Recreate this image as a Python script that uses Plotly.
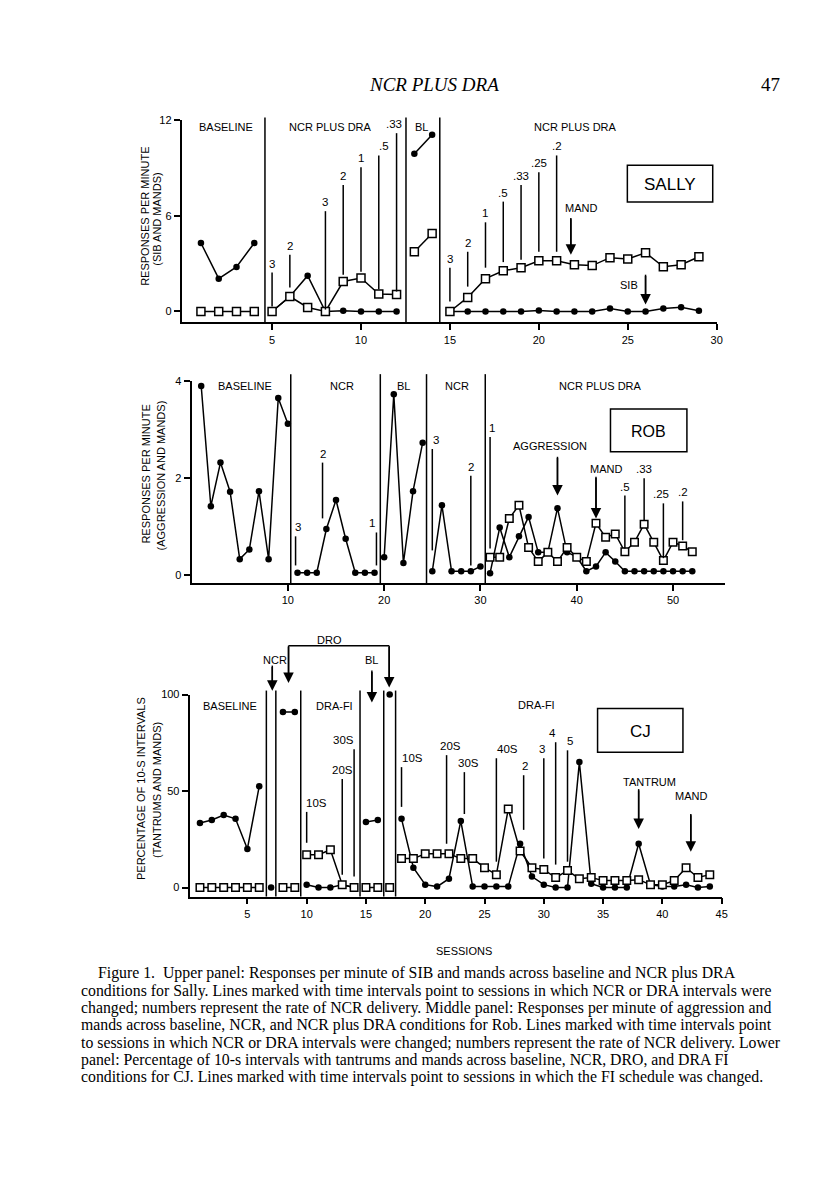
import plotly.graph_objects as go

W, H = 816, 1200

# ---------------- DATA ----------------
# Sally (upper panel): responses per minute of SIB (filled circles) and mands (open squares)
sally_sessions = list(range(1, 30))
sally_sib = [4.3, 2.06, 2.8, 4.3,
             0.0, 0.94, 2.25, 0.0, 0.05, 0.0, 0.0, 0.0,
             9.9, 11.1,
             0.0, 0.0, 0.0, 0.0, 0.0, 0.06, 0.0, 0.0, 0.0, 0.19, 0.0, 0.0, 0.19, 0.27, 0.05]
sally_mands = [0.0, 0.0, 0.0, 0.0,
               0.0, 0.94, 0.25, 0.0, 1.88, 2.1, 1.1, 1.06,
               3.75, 4.9,
               0.0, 0.88, 2.06, 2.56, 2.75, 3.19, 3.19, 2.94, 2.88, 3.38, 3.3, 3.69, 2.81, 2.94, 3.44]
sally_phase_breaks = [4.6, 12.53, 14.43]
sally_xticks = [5, 10, 15, 20, 25, 30]
sally_yticks = [0, 6, 12]

# Rob (middle panel): responses per minute of aggression (circles) and mands (squares)
rob_sessions = list(range(1, 53))
rob_aggression = [3.9, 1.42, 2.32, 1.72, 0.33, 0.53, 1.73, 0.33, 3.65, 3.12,
                  0.05, 0.05, 0.05, 0.95, 1.55, 0.75, 0.05, 0.05, 0.05,
                  0.37, 3.73, 0.25, 1.73, 2.73,
                  0.08, 1.44, 0.08, 0.08, 0.08, 0.18,
                  0.04, 0.98, 0.37, 0.8, 1.2, 0.47, 0.47, 1.38, 0.47, 0.38, 0.08, 0.18, 0.47, 0.28,
                  0.08, 0.08, 0.08, 0.08, 0.08, 0.08, 0.08, 0.08]
rob_mand_sessions = list(range(31, 53))
rob_mands = [0.37, 0.37, 1.17, 1.44, 0.57, 0.28, 0.47, 0.28, 0.57, 0.37, 0.28,
             1.07, 0.78, 0.85, 0.48, 0.68, 1.05, 0.68, 0.3, 0.68, 0.6, 0.48]
rob_phase_breaks = [10.3, 19.6, 24.4, 30.5]
rob_xticks = [10, 20, 30, 40, 50]
rob_yticks = [0, 2, 4]

# CJ (lower panel): percentage of 10-s intervals with tantrums (circles) and mands (squares)
cj_sessions = list(range(1, 45))
cj_tantrums = [33.5, 35, 37.6, 35.6, 20, 52.5,
               0,
               91, 91,
               1.5, 0, 0, 1.5, 0,
               34, 35,
               100,
               35.6, 10.3, 1.5, 0.5, 4.6, 34.5, 0.5, 0.5, 0.5, 0.5, 22.7, 5.7, 1.5,
               0, 0, 65, 2, 0, 0, 0, 22.7, 1.5, 0.5, 0.5, 1.5, 0, 0.5]
cj_mand_sessions = [1, 2, 3, 4, 5, 6] + list(range(8, 45))
cj_mands = [0, 0, 0, 0, 0, 0,
            0, 0,
            17, 17, 19.6, 1.5, 0,
            0, 0,
            0,
            15, 15, 17.5, 17.5, 17.5, 15, 15, 10.3, 6.7, 40.7, 19, 10.3, 9.3,
            5.2, 8.8, 4.6, 5.2, 3.6, 3.6, 3.6, 4.1, 1.5, 1.5, 3.6, 10.3, 5.2, 6.7]
cj_phase_breaks = [6.6, 7.4, 9.5, 14.5, 16.5, 17.5]
cj_xticks = [5, 10, 15, 20, 25, 30, 35, 40, 45]
cj_yticks = [0, 50, 100]

# Condition-change markers: (session, label)
sally_mark_sessions = [5, 6, 8, 9, 10, 11, 12, 15, 16, 17, 18, 19, 20, 21]
sally_mark_labels = ["3", "2", "3", "2", "1", ".5", ".33", "3", "2", "1", ".5", ".33", ".25", ".2"]
rob_mark_sessions = [10.8, 13.6, 19.2, 25, 29, 31, 45, 47, 49, 51]
rob_mark_labels = ["3", "2", "1", "3", "2", "1", ".5", ".33", ".25", ".2"]
cj_mark_sessions = [10, 13, 14, 18, 21.8, 23.3, 26, 28.3, 30, 31, 32]
cj_mark_labels = ["10S", "20S", "30S", "10S", "20S", "30S", "40S", "2", "3", "4", "5"]

# ---------------- LAYOUT GEOMETRY (pixels) ----------------
P = {
    "sally": dict(x0=183, x1=722, xr=(-0.084, 30.0), y0=318, y1=115, yr=(-0.6875, 12.0), top=112),
    "rob":   dict(x0=193, x1=730, xr=(0.0, 55.36), y0=580, y1=377, yr=(-0.164, 4.0), top=370),
    "cj":    dict(x0=191, x1=727, xr=(0.126, 45.0), y0=895, y1=692, yr=(-4.64, 100.0), top=688),
}
# marker line extents (top, bottom) in data units, label x shift in px
sally_mark_geom = [(2.44, 0.31, 0), (3.56, 1.5, 0), (6.3, 0.12, 0), (7.94, 2.31, 0), (9.06, 2.5, 0),
                   (9.8, 1.4, 5), (11.2, 1.25, -3), (2.75, 0.62, 0), (3.75, 1.56, 0), (5.6, 2.75, 0),
                   (6.9, 3.1, 0), (7.94, 3.25, 0), (8.75, 3.75, 0), (9.8, 3.75, 0)]
rob_mark_geom = [(0.8, 0.2, 2), (2.32, 1.17, 0), (0.88, 0.2, -4), (2.6, 0.51, 4), (2.05, 0.2, 0),
                 (2.85, 0.55, 2), (1.64, 0.55, 0), (2.0, 1.13, 0), (1.48, 0.35, -2), (1.52, 0.72, 0)]
cj_mark_geom = [(39.2, 23.2, 10), (56.2, 6.7, 0), (71.6, 5.7, -11), (62.4, 41.8, 11), (68.6, 22.7, 4),
                (59.8, 38.1, 4), (67, 13.4, 11), (58.2, 29.9, 1), (67, 15, -2), (75.3, 11.9, -3),
                (71.1, 13.4, 2)]


def px(p, v):
    d = P[p]
    return d["x0"] + (v - d["xr"][0]) / (d["xr"][1] - d["xr"][0]) * (d["x1"] - d["x0"])


def py(p, v):
    d = P[p]
    return d["y0"] + (v - d["yr"][0]) / (d["yr"][1] - d["yr"][0]) * (d["y1"] - d["y0"])


def fx(x):
    return x / W


def fy(y):
    return 1 - y / H


SANS = "Liberation Sans, Arial, sans-serif"
SERIF = "Liberation Serif, Times New Roman, serif"


def split(xs, ys, breaks):
    ox, oy = [], []
    for i, (x, y) in enumerate(zip(xs, ys)):
        if i > 0 and any(xs[i - 1] < b < x for b in breaks):
            ox.append(None)
            oy.append(None)
        ox.append(x)
        oy.append(y)
    return ox, oy


fig = go.Figure()
axmap = {"sally": ("x", "y"), "rob": ("x2", "y2"), "cj": ("x3", "y3")}
series = {
    "sally": ((sally_sessions, sally_sib), (sally_sessions, sally_mands), sally_phase_breaks, 8),
    "rob": ((rob_sessions, rob_aggression), (rob_mand_sessions, rob_mands), rob_phase_breaks, 7.5),
    "cj": ((cj_sessions, cj_tantrums), (cj_mand_sessions, cj_mands), cj_phase_breaks, 7.5),
}
for p, (circ, sq, brk, sqsize) in series.items():
    xa, ya = axmap[p]
    cx, cy = split(circ[0], circ[1], brk)
    fig.add_trace(go.Scatter(x=cx, y=cy, mode="lines+markers", xaxis=xa, yaxis=ya,
                             line=dict(color="black", width=1.5), cliponaxis=False,
                             marker=dict(symbol="circle", size=6.5, color="black"),
                             showlegend=False, hoverinfo="skip"))
    sx, sy = split(sq[0], sq[1], brk)
    fig.add_trace(go.Scatter(x=sx, y=sy, mode="lines+markers", xaxis=xa, yaxis=ya,
                             line=dict(color="black", width=1.5), cliponaxis=False,
                             marker=dict(symbol="square", size=sqsize, color="white",
                                         line=dict(color="black", width=1.5)),
                             showlegend=False, hoverinfo="skip"))

shapes = []
annotations = []


def vline(x, yt, yb, w=1.5):
    shapes.append(dict(type="line", xref="paper", yref="paper", x0=fx(x), x1=fx(x),
                       y0=fy(yt), y1=fy(yb), line=dict(color="black", width=w)))


def text(x, y, s, size=11, family=SANS, xanchor="center", yanchor="middle", **kw):
    annotations.append(dict(x=fx(x), y=fy(y), xref="paper", yref="paper", text=s, showarrow=False,
                            font=dict(family=family, size=size, color="black"),
                            xanchor=xanchor, yanchor=yanchor, **kw))


def arrow(p, xs, ytail, ytip):
    x = px(p, xs)
    yt, yh = py(p, ytail), py(p, ytip)
    annotations.append(dict(x=fx(x), y=fy(yh), xref="paper", yref="paper", text="",
                            showarrow=True, axref="pixel", ayref="pixel", ax=0, ay=-(yh - yt),
                            arrowhead=2, arrowsize=1.4, arrowwidth=1.5, arrowcolor="black",
                            standoff=0, startstandoff=0))


# phase lines
for p, brk in (("sally", sally_phase_breaks), ("rob", rob_phase_breaks), ("cj", cj_phase_breaks)):
    for b in brk:
        vline(px(p, b), P[p]["top"], P[p]["y0"])

# condition-change markers
for p, ss, ll, gg in (("sally", sally_mark_sessions, sally_mark_labels, sally_mark_geom),
                      ("rob", rob_mark_sessions, rob_mark_labels, rob_mark_geom),
                      ("cj", cj_mark_sessions, cj_mark_labels, cj_mark_geom)):
    for s, lab, (t, b, sh) in zip(ss, ll, gg):
        x = px(p, s)
        vline(x, py(p, t), py(p, b))
        text(x, py(p, t) - 1, lab, size=11.5, yanchor="bottom", xshift=sh)

# phase labels (data units)
phase_labels = [
    ("sally", 2.43, 11.56, "BASELINE"), ("sally", 8.26, 11.56, "NCR PLUS DRA"),
    ("sally", 13.42, 11.56, "BL"), ("sally", 22.07, 11.6, "NCR PLUS DRA"),
    ("rob", 5.57, 3.9, "BASELINE"), ("rob", 15.57, 3.9, "NCR"), ("rob", 21.96, 3.9, "BL"),
    ("rob", 27.53, 3.9, "NCR"), ("rob", 42.47, 3.9, "NCR PLUS DRA"),
    ("cj", 3.56, 94.3, "BASELINE"), ("cj", 12.35, 94.3, "DRA-FI"), ("cj", 29.35, 94.8, "DRA-FI"),
]
for p, xs, yv, s in phase_labels:
    text(px(p, xs), py(p, yv), s, size=11)

# arrows with labels
arrow_defs = [
    ("sally", 21.8, 5.875, 3.56, "MAND", 22.35, 6.5),
    ("sally", 26.0, 2.31, 0.44, "SIB", 25.08, 1.69),
    ("rob", 38.0, 2.44, 1.64, "AGGRESSION", 37.2, 2.67),
    ("rob", 42.0, 2.03, 1.17, "MAND", 43.0, 2.19),
    ("cj", 38.0, 51.0, 30.4, "TANTRUM", 38.9, 54.6),
    ("cj", 42.4, 38.1, 18.6, "MAND", 42.4, 47.4),
    ("cj", 7.1, 115.0, 102.0, "NCR", 7.3, 118.0),
    ("cj", 15.5, 112.4, 95.9, "BL", 15.5, 118.0),
]
for p, xs, yt, yh, lab, lx, ly in arrow_defs:
    vline(px(p, xs), py(p, yt), py(p, yh) - 8)
    arrow(p, xs, yt, yh)
    text(px(p, lx), py(p, ly), lab, size=11)

# DRO bracket
dro_left, dro_right, dro_y = 8.47, 16.96, 125.3
shapes.append(dict(type="line", xref="paper", yref="paper",
                   x0=fx(px("cj", dro_left)), x1=fx(px("cj", dro_right)),
                   y0=fy(py("cj", dro_y)), y1=fy(py("cj", dro_y)), line=dict(color="black", width=1.5)))
for xs, tip in ((dro_left, 106.0), (dro_right, 103.6)):
    vline(px("cj", xs), py("cj", dro_y), py("cj", tip) - 8)
    arrow("cj", xs, dro_y, tip)
text(px("cj", 11.94), py("cj", 128.4), "DRO", size=11)

# name boxes
for (x0, y0, x1, y1, name, fs) in ((632, 160, 718, 197, "SALLY", 17),
                                   (615, 405, 692, 448, "ROB", 16),
                                   (602, 706, 688, 750, "CJ", 17)):
    shapes.append(dict(type="rect", xref="paper", yref="paper", x0=fx(x0), x1=fx(x1),
                       y0=fy(y0), y1=fy(y1), line=dict(color="black", width=1.5),
                       fillcolor="white", layer="below"))
    text((x0 + x1) / 2, (y0 + y1) / 2 + 1, name, size=fs)

# y-axis titles
for (x, y, s) in ((146, 211, "RESPONSES PER MINUTE"), (158, 214, "(SIB AND MANDS)"),
                  (147, 470, "RESPONSES PER MINUTE"), (162, 472, "(AGGRESSION AND MANDS)"),
                  (142, 786, "PERCENTAGE OF 10-S INTERVALS"), (158, 788, "(TANTRUMS AND MANDS)")):
    text(x, y, s, size=11, textangle=-90)

text(467, 950, "SESSIONS", size=11)

# page header
text(437, 79, "<i>NCR PLUS DRA</i>", size=19, family=SERIF)
text(776, 79, "47", size=19, family=SERIF)

# caption
caption = [
    "Figure 1.  Upper panel: Responses per minute of SIB and mands across baseline and NCR plus DRA",
    "conditions for Sally. Lines marked with time intervals point to sessions in which NCR or DRA intervals were",
    "changed; numbers represent the rate of NCR delivery. Middle panel: Responses per minute of aggression and",
    "mands across baseline, NCR, and NCR plus DRA conditions for Rob. Lines marked with time intervals point",
    "to sessions in which NCR or DRA intervals were changed; numbers represent the rate of NCR delivery. Lower",
    "panel: Percentage of 10-s intervals with tantrums and mands across baseline, NCR, DRO, and DRA FI",
    "conditions for CJ. Lines marked with time intervals point to sessions in which the FI schedule was changed.",
]
for i, line in enumerate(caption):
    text(97 if i == 0 else 80, 972 + i * 17.45, line, size=15.8, family=SERIF, xanchor="left")

axis_common = dict(showline=True, linecolor="black", linewidth=1.8, ticks="outside", ticklen=6,
                   tickwidth=1.5, tickcolor="black", showgrid=False, zeroline=False,
                   tickfont=dict(family=SANS, size=11, color="black"), fixedrange=True)


def xdom(p):
    return [P[p]["x0"] / W, P[p]["x1"] / W]


def ydom(p):
    return [1 - P[p]["y0"] / H, 1 - P[p]["y1"] / H]


fig.update_layout(
    width=W, height=H, margin=dict(l=0, r=0, t=0, b=0),
    paper_bgcolor="white", plot_bgcolor="rgba(0,0,0,0)", showlegend=False,
    xaxis=dict(domain=xdom("sally"), range=list(P["sally"]["xr"]), anchor="y", tickvals=sally_xticks, **axis_common),
    yaxis=dict(domain=ydom("sally"), range=list(P["sally"]["yr"]), anchor="x", tickvals=sally_yticks, **axis_common),
    xaxis2=dict(domain=xdom("rob"), range=list(P["rob"]["xr"]), anchor="y2", tickvals=rob_xticks, **axis_common),
    yaxis2=dict(domain=ydom("rob"), range=list(P["rob"]["yr"]), anchor="x2", tickvals=rob_yticks, **axis_common),
    xaxis3=dict(domain=xdom("cj"), range=list(P["cj"]["xr"]), anchor="y3", tickvals=cj_xticks, **axis_common),
    yaxis3=dict(domain=ydom("cj"), range=list(P["cj"]["yr"]), anchor="x3", tickvals=cj_yticks, **axis_common),
    shapes=shapes, annotations=annotations,
)

fig.write_html("out.html", config={"displayModeBar": False},
               post_script="document.body.style.margin='0';")
